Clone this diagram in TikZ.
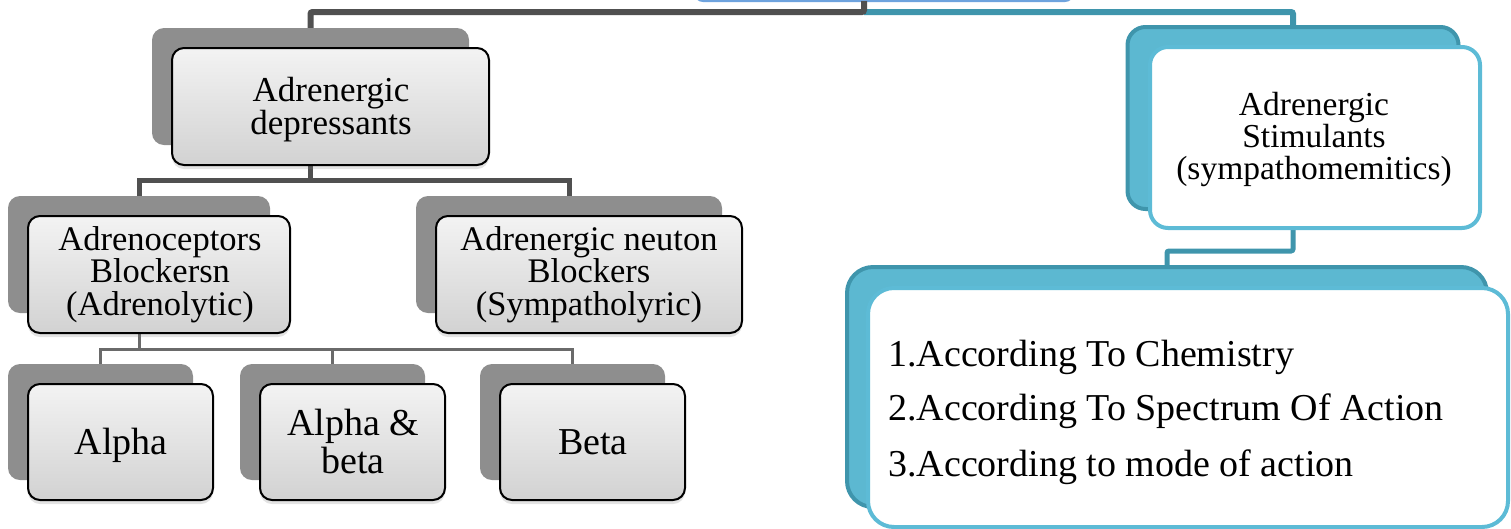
\documentclass[tikz,border=0pt]{standalone}
\usepackage{fontspec}
\setmainfont{Liberation Serif}
\usetikzlibrary{shadows,calc}
\definecolor{shgray}{HTML}{8E8E8E}
\definecolor{conngray}{HTML}{505050}
\definecolor{gtop}{HTML}{F3F3F3}
\definecolor{gbot}{HTML}{D2D2D2}
\definecolor{tealdark}{HTML}{3F95AC}
\definecolor{tealfill}{HTML}{5CB8D1}
\definecolor{tealline}{HTML}{5DBBD6}
\definecolor{rootblue}{HTML}{6EA3DE}
\newcommand\mysizeD{\fontsize{35}{31}\selectfont}
\newcommand\mysizeA{\fontsize{34.5}{32.5}\selectfont}
\newcommand\mysizeS{\fontsize{33.5}{32}\selectfont}
\newcommand\mysizeB{\fontsize{38}{38}\selectfont}
\newcommand\mysizeL{\fontsize{38}{40}\selectfont}
\begin{document}
\begin{tikzpicture}[x=1pt,y=-1pt,
  graysh/.style={draw=none, fill=shgray, rounded corners=12pt, inner sep=0pt},
  grayfr/.style={draw=black, line width=2pt, rounded corners=12pt, top color=gtop, bottom color=gbot,
     inner sep=0pt, drop shadow={opacity=0.22, shadow xshift=0pt, shadow yshift=-4pt}},
  tealsh/.style={draw=tealdark, line width=4pt, fill=tealfill, inner sep=0pt},
  tealfr/.style={draw=tealline, line width=4pt, fill=white, inner sep=0pt},
  rootbox/.style={draw=rootblue, line width=2pt, fill=white, rounded corners=8pt, inner sep=0pt},
  gconnA/.style={draw=conngray, line width=6pt, rounded corners=2pt},
  gconnB/.style={draw=conngray, line width=5pt},
  gconnC/.style={draw=conngray!85, line width=3pt},
  tconnA/.style={draw=tealdark, line width=6pt, rounded corners=2pt},
  tconnB/.style={draw=tealdark, line width=5pt, rounded corners=2pt},
  boxtext/.style={anchor=base, inner sep=0pt, align=center},
  listtext/.style={anchor=base west, inner sep=0pt, font=\mysizeL}
]
\useasboundingbox (0,0) rectangle (1511,528);
\clip (0,0) rectangle (1511,528);

% root box (mostly outside the picture)
\node[rootbox, minimum width=378pt, minimum height=60pt] (root) at (884,-29) {};
\coordinate (rootj) at (864,1);
\coordinate (j0) at (864,12);
\coordinate (j1) at (310.5,180);
\coordinate (j2) at (139,349);
\coordinate (j3) at (1293,251);

% shadow boxes (back)
\node[graysh, minimum width=317pt, minimum height=117pt] (depS) at (310.5,86.5) {};
\node[graysh, minimum width=262pt, minimum height=117pt] (adrS) at (139,254.5) {};
\node[graysh, minimum width=306pt, minimum height=117pt] (neuS) at (569,254.5) {};
\node[graysh, minimum width=185pt, minimum height=116pt] (alS) at (100.5,422) {};
\node[graysh, minimum width=185pt, minimum height=116pt] (abS) at (332.5,422) {};
\node[graysh, minimum width=185pt, minimum height=116pt] (beS) at (572.5,422) {};
\node[tealsh, rounded corners=18pt, minimum width=331pt, minimum height=182pt] (stimS) at (1293,118) {};
\node[tealsh, rounded corners=26pt, minimum width=640pt, minimum height=240pt] (listS) at (1167,387) {};

% connectors
\draw[tconnA] (j0) -| (stimS.north);
\draw[gconnA] (rootj) -- (j0) -| (depS.north);
\draw[gconnB] (depS.south) -- (j1) -| (adrS.north);
\draw[gconnB] (j1) -| (neuS.north);
\draw[gconnC] (adrS.south) -- (j2) -| (alS.north);
\draw[gconnC] (j2) -| (abS.north);
\draw[gconnC] (j2) -| (beS.north);
\draw[tconnB] (stimS.south) -- (j3) -| (listS.north);

% front boxes
\node[grayfr, minimum width=317pt, minimum height=117pt] (dep) at (330.5,106.5) {};
\node[grayfr, minimum width=262pt, minimum height=117pt] (adr) at (159,274.5) {};
\node[grayfr, minimum width=306pt, minimum height=117pt] (neu) at (589,274.5) {};
\node[grayfr, minimum width=185pt, minimum height=116pt] (al) at (120.5,442) {};
\node[grayfr, minimum width=185pt, minimum height=116pt] (ab) at (352.5,442) {};
\node[grayfr, minimum width=185pt, minimum height=116pt] (be) at (592.5,442) {};
\node[tealfr, rounded corners=18pt, minimum width=330pt, minimum height=181pt] (stim) at (1315,137.5) {};
\node[tealfr, rounded corners=26pt, minimum width=640pt, minimum height=239pt] (list) at (1188,407.5) {};

% texts (anchored at the baseline of their last line)
\node[boxtext, font=\mysizeD] (depT) at (331,134) {Adrenergic\\depressants};
\node[boxtext, font=\mysizeA] (adrT) at (160,315) {Adrenoceptors\\Blockersn\\(Adrenolytic)};
\node[boxtext, font=\mysizeA] (neuT) at (589,315) {Adrenergic neuton\\Blockers\\(Sympatholyric)};
\node[boxtext, font=\mysizeB] (alT) at (121,454) {Alpha};
\node[boxtext, font=\mysizeB] (abT) at (353,473) {Alpha \&\\beta};
\node[boxtext, font=\mysizeB] (beT) at (593,454) {Beta};
\node[boxtext, font=\mysizeS] (stimT) at (1314,179) {Adrenergic\\Stimulants\\(sympathomemitics)};

\node[listtext] (l1) at (888,366) {1.According To Chemistry};
\node[listtext] (l2) at (888,420) {2.According To Spectrum Of Action};
\node[listtext] (l3) at (888,476) {3.According to mode of action};
\end{tikzpicture}
\end{document}
